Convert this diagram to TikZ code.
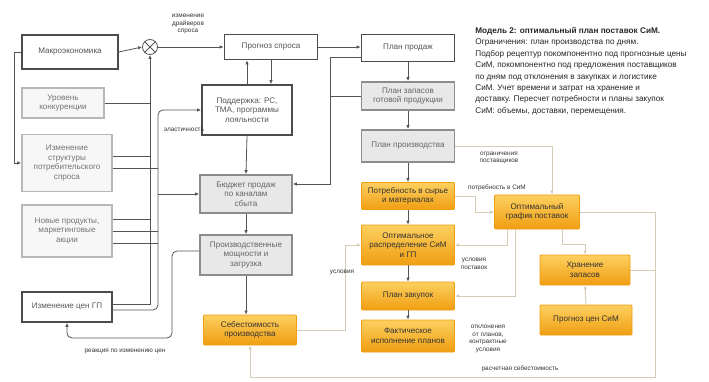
\documentclass[tikz,border=0pt]{standalone}
\usepackage{fontspec}
\setmainfont{Liberation Sans}
\usetikzlibrary{arrows.meta,positioning}
\definecolor{dline}{RGB}{85,85,85}
\definecolor{ltline}{RGB}{214,204,182}
\definecolor{otop}{RGB}{253,208,96}
\definecolor{obot}{RGB}{240,158,18}
\tikzset{
	>={Latex[length=4pt,width=3.5pt]},
	box/.style={draw=black!70,line width=1.6pt,fill=white,align=center,inner sep=2pt,font=\fontsize{8.1}{9.6}\selectfont},
	pbox/.style={box,draw=black!28,fill=black!3,text=black!55},
	gbox/.style={box,draw=black!45,fill=black!9,text=black!60},
	obox/.style={box,draw=obot,line width=0.8pt,top color=otop,bottom color=obot,rounded corners=1pt,text=black!80},
	lbl/.style={align=center,inner sep=1pt,font=\fontsize{6.4}{7.4}\selectfont,text=black!80},
	lt/.style={draw=ltline,line width=0.9pt},
	sz/.style 2 args={minimum width=#1,minimum height=#2}
}

\begin{document}
\begin{tikzpicture}[x=1pt,y=-1pt,dline,line width=0.8pt]
	\useasboundingbox[fill=white] (0,0) rectangle (709,382);
	\node[box,sz={96}{34}] (mak) at (70,52) {Макроэкономика};
	\node[pbox,sz={82}{30}] (kon) at (63,103) {Уровень\\конкуренции};
	\node[pbox,sz={90}{57}] (pot) at (67,163) {Изменение\\структуры\\потребительского\\спроса};
	\node[pbox,sz={90}{52}] (nov) at (67,231) {Новые продукты,\\маркетинговые\\акции};
	\node[box,sz={90}{30}] (cen) at (67,307) {Изменение цен ГП};
	\node[draw,circle,fill=white,minimum size=15,inner sep=0pt] (sum) at (150,47) {};
	\node[box,sz={93}{25}] (prs) at (271,47) {Прогноз спроса};
	\node[box,sz={90}{50}] (pod) at (247,110) {Поддержка: РС,\\ТМА, программы\\лояльности};
	\node[gbox,sz={92}{38}] (bud) at (246,194) {Бюджет продаж\\по каналам\\сбыта};
	\node[gbox,sz={92}{40}] (mos) at (246,255) {Производственные\\мощности и\\загрузка};
	\node[obox,sz={93}{30}] (seb) at (250,330) {Себестоимость\\производства};
	\node[box,sz={93}{27}] (ppr) at (408,48) {План продаж};
	\node[gbox,sz={93}{28}] (pza) at (408,96) {План запасов\\готовой продукции};
	\node[gbox,sz={93}{32}] (ppv) at (408,146) {План производства};
	\node[obox,sz={93}{27}] (psm) at (408,196) {Потребность в сырье\\и материалах};
	\node[obox,sz={93}{40}] (ora) at (408,245) {Оптимальное\\распределение СиМ\\и ГП};
	\node[obox,sz={93}{28}] (pzk) at (408,296) {План закупок};
	\node[obox,sz={93}{32}] (fak) at (408,336) {Фактическое\\исполнение планов};
	\node[obox,sz={85}{34}] (gra) at (537,212) {Оптимальный\\график поставок};
	\node[obox,sz={90}{30}] (hra) at (585,270) {Хранение\\запасов};
	\node[obox,sz={92}{30}] (pcs) at (586,320) {Прогноз цен СиМ};
	\node[coordinate] (l1) at (14,52) {};
	\node[coordinate] (b1) at (150,300) {};
	\node[coordinate] (b2) at (158,310) {};
	\node[coordinate] (r1) at (172,338) {};
	\node[coordinate] (v1) at (330,184) {};
	\node[coordinate] (fr) at (655,377) {};
	\draw (sum.45) -- (sum.225) (sum.135) -- (sum.315);
	\draw[->] (mak.east) -- (sum.west);
	\draw[->] (sum.east) -- (prs.west);
	\draw[->] (mak.west) -- (l1) |- (pot.west);
	\draw (kon.east) -- (kon.east -| b1);
	\draw ([yshift=7]pot.east) -- ([yshift=7]pot.east -| b1);
	\draw ([yshift=-5]pot.east) -- ([yshift=-5]pot.east -| b2);
	\draw ([yshift=12]nov.east) -- ([yshift=12]nov.east -| b1);
	\draw (nov.east) -- (nov.east -| b2);
	\draw ([yshift=-12]nov.east) -- ([yshift=-12]nov.east -| b2);
	\draw[->] ([yshift=3]cen.east) -| (sum.south);
	\draw[->,rounded corners=5] ([yshift=-3]cen.east) -| (pod.west -| b2) -- (pod.west);
	\draw[->] (bud.west -| b2) -- (bud.west);
	\draw[->,rounded corners=5] ([yshift=4]mos.west) -| (r1) -| (cen.south);
	\draw[->] (pod.north) -- (pod.north |- prs.south);
	\draw[->] (prs.south) -- (prs.south |- pod.north);
	\draw[->] (pod.south) -- (bud.north);
	\draw[->] (bud.south) -- (mos.north);
	\draw[->] (mos.south) -- (mos.south |- seb.north);
	\draw[->] (prs.east) -- (prs.east -| ppr.west);
	\draw[->] ([yshift=-9]ppr.west) -| (v1) -- (v1 -| bud.east);
	\draw (pza.west) -- (pza.west -| v1);
	\draw[->] (ppr) -- (pza);
	\draw[->] (pza) -- (ppv);
	\draw[->] (ppv) -- (psm);
	\draw[->] (psm) -- (ora);
	\draw[->] (ora) -- (pzk);
	\draw[->] (pzk) -- (fak);
	\draw[->,lt] (seb.east) -| (345,245) -- (ora.west);
	\draw[->,lt] (ppv.east) -| ([xshift=15]gra.north);
	\draw[->,lt] (psm.east) -- (475,196) |- (gra.west);
	\draw[->,lt] ([xshift=-30]gra.south) |- (ora.east);
	\draw[->,lt] ([xshift=-22]gra.south) |- (pzk.east);
	\draw[->,lt] ([xshift=25]gra.south) |- ([yshift=10]hra.north) -- (hra.north);
	\draw[->,lt] (pcs.north) -- (hra.south);
	\draw[->,lt] (gra.east) -| (fr) -| (seb.south);
	\draw[lt] (hra.east) -- (hra.east -| fr);
	\node[lbl] (drv) at (188,24) {изменение\\драйверов\\спроса};
	\node[lbl] (ela) at (184,130) {эластичность};
	\node[lbl] (rea) at (125,351) {реакция по изменению цен};
	\node[lbl] (usl) at (342,272) {условия};
	\node[lbl] (ogr) at (499,158) {ограничения\\поставщиков};
	\node[lbl] (pvs) at (497,188) {потребность в СиМ};
	\node[lbl] (usp) at (474,264) {условия\\поставок};
	\node[lbl] (otk) at (488,339) {отклонения\\от планов,\\контрактные\\условия};
	\node[lbl] (ras) at (520,369) {расчетная себестоимость};
	\node[anchor=north west,align=left,inner sep=0pt,font=\fontsize{8.2}{11.4}\selectfont,text=black!85] (txt) at (475,27)
		{\textbf{Модель 2: оптимальный план поставок СиМ.}\\
		Ограничения: план производства по дням.\\
		Подбор рецептур покомпонентно под прогнозные цены\\
		СиМ, покомпонентно под предложения поставщиков\\
		по дням под отклонения в закупках и логистике\\
		СиМ. Учет времени и затрат на хранение и\\
		доставку. Пересчет потребности и планы закупок\\
		СиМ: объемы, доставки, перемещения.};
\end{tikzpicture}
\end{document}
